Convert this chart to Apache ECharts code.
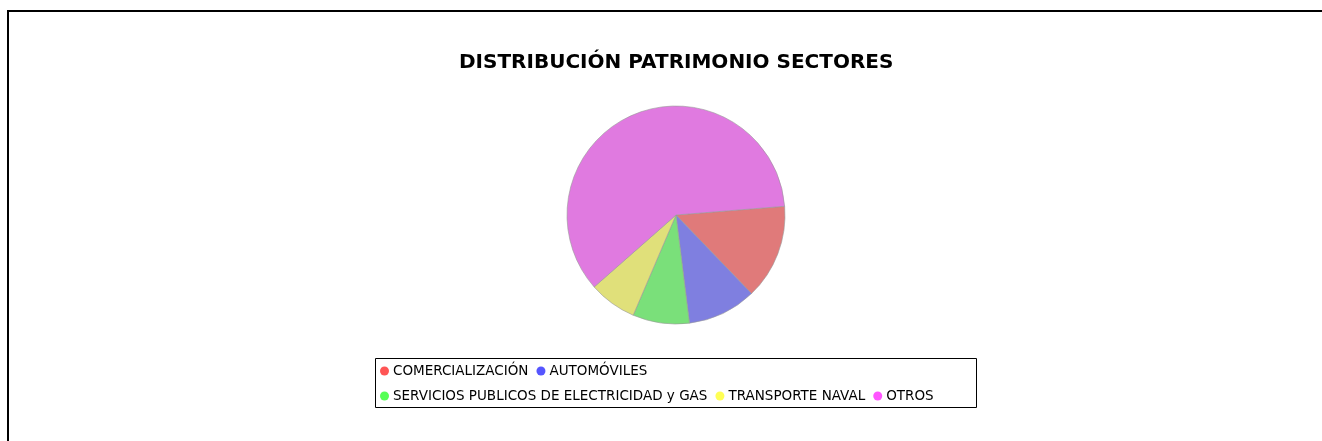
<!DOCTYPE html>
<html>
<head>
<meta charset="utf-8">
<script src="https://cdn.jsdelivr.net/npm/echarts@6/dist/echarts.min.js"></script>
<style>
  html, body { margin: 0; padding: 0; background: #fff; }
  #main { width: 1322px; height: 441px; }
</style>
</head>
<body>
<div id="main"></div>
<script>
var sectores = ['COMERCIALIZACIÓN', 'AUTOMÓVILES', 'SERVICIOS PUBLICOS DE ELECTRICIDAD y GAS', 'TRANSPORTE NAVAL', 'OTROS'];
var valores = [14.1, 10.2, 8.4, 7.1, 60.2];
var coloresSlice = ['#e07a7a', '#7f7fe0', '#7ae07a', '#e0e07a', '#e07ae0'];
var coloresLeyenda = ['#ff5555', '#5555ff', '#55ff55', '#ffff55', '#ff55ff'];

var chart = echarts.init(document.getElementById('main'));

var datos = [];
var leyenda = [];
for (var i = 0; i < sectores.length; i++) {
    datos.push({name: sectores[i], value: valores[i], itemStyle: {color: coloresSlice[i]}});
    leyenda.push({name: sectores[i], itemStyle: {color: coloresLeyenda[i], borderWidth: 0}});
}

// estilo comun de las dos filas de la leyenda
function filaLeyenda(items, top) {
    return {
        data: items,
        left: 380,
        top: top,
        orient: 'horizontal',
        icon: 'circle',
        itemWidth: 9,
        itemHeight: 9,
        itemGap: 8,
        padding: 0,
        selectedMode: false,
        textStyle: {
            fontFamily: 'DejaVu Sans',
            fontSize: 13.5,
            color: '#000',
            padding: [0, 0, 0, -1]
        }
    };
}

var option = {
    animation: false,
    title: {
        text: 'DISTRIBUCIÓN PATRIMONIO SECTORES',
        left: 454,
        top: 48,
        textStyle: {
            fontFamily: 'DejaVu Sans',
            fontWeight: 'bold',
            fontSize: 20,
            color: '#000'
        }
    },
    legend: [
        filaLeyenda(leyenda.slice(0, 2), 364),
        filaLeyenda(leyenda.slice(2), 389)
    ],
    graphic: [{
        type: 'rect',
        shape: {x: 8, y: 11, width: 1400, height: 500},
        style: {fill: 'none', stroke: '#000', lineWidth: 2},
        silent: true
    }, {
        type: 'rect',
        shape: {x: 375.5, y: 358.5, width: 601, height: 49},
        style: {fill: 'none', stroke: '#000', lineWidth: 1},
        silent: true
    }],
    series: [{
        type: 'pie',
        center: [676, 215],
        radius: 109,
        startAngle: 4.6,
        clockwise: true,
        label: {show: false},
        labelLine: {show: false},
        emphasis: {disabled: true},
        itemStyle: {borderColor: '#999', borderWidth: 0.6},
        data: datos
    }]
};

chart.setOption(option);
</script>
</body>
</html>
